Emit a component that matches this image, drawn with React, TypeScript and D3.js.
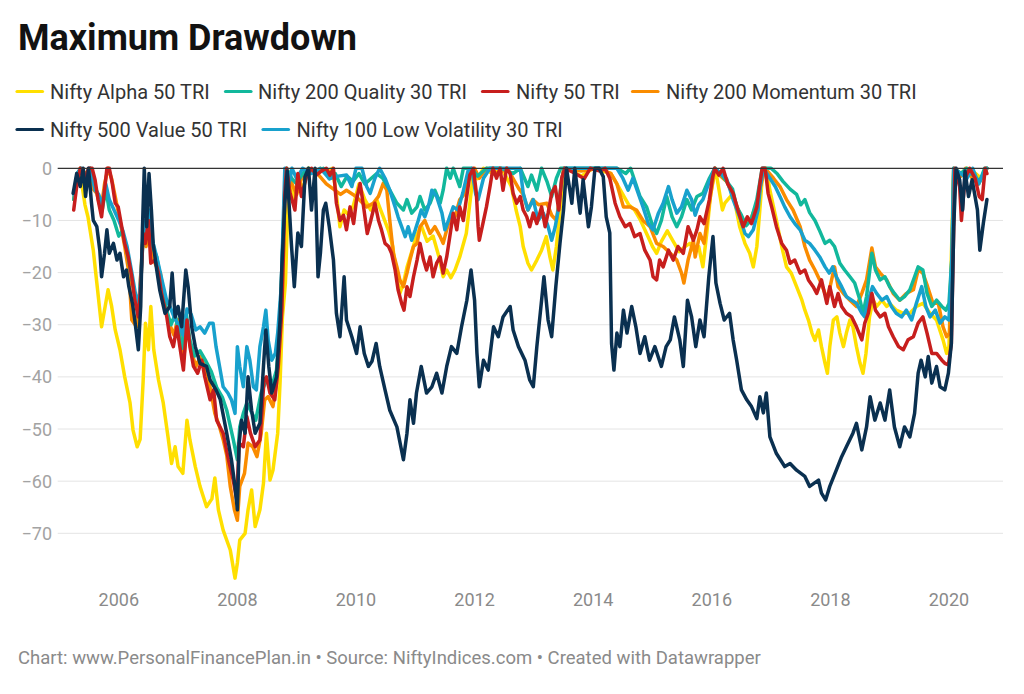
import React from 'react';
import * as d3 from 'd3';

type Pt = [number, number];

const xTickYears = [2006, 2008, 2010, 2012, 2014, 2016, 2018, 2020];
const yTickValues = [0, -10, -20, -30, -40, -50, -60, -70];

const seriesLabels = [
  'Nifty Alpha 50 TRI',
  'Nifty 200 Quality 30 TRI',
  'Nifty 50 TRI',
  'Nifty 200 Momentum 30 TRI',
  'Nifty 500 Value 50 TRI',
  'Nifty 100 Low Volatility 30 TRI',
];
const seriesColors = ['#ffdf00', '#12b89c', '#c71e1d', '#fa8c00', '#0a3050', '#18a1cd'];

const alpha50: Pt[] = [[2005.24,-4.7],[2005.35,-1],[2005.43,-7],[2005.48,-9.3],[2005.57,-15.7],[2005.63,-22],[2005.71,-30.4],[2005.77,-26.5],[2005.82,-23.3],[2005.88,-26.5],[2005.94,-31],[2006.02,-34.8],[2006.10,-40],[2006.19,-45],[2006.24,-50.2],[2006.31,-53.4],[2006.36,-52],[2006.41,-41],[2006.45,-29.7],[2006.50,-34.8],[2006.54,-26.5],[2006.59,-34.8],[2006.67,-40.6],[2006.75,-45],[2006.83,-51.5],[2006.89,-56.6],[2006.95,-53.4],[2007.00,-57.2],[2007.08,-58.5],[2007.15,-48.3],[2007.20,-52.1],[2007.29,-57.2],[2007.37,-61],[2007.48,-64.9],[2007.57,-63.4],[2007.62,-59.4],[2007.68,-65.5],[2007.76,-69.4],[2007.88,-73.2],[2007.96,-78.6],[2008.00,-75.7],[2008.04,-71.3],[2008.13,-70],[2008.18,-65.5],[2008.24,-61.7],[2008.30,-68.7],[2008.38,-65.5],[2008.44,-60.4],[2008.49,-50.8],[2008.55,-59.8],[2008.60,-57.9],[2008.68,-50.8],[2008.72,-41],[2008.76,-28.5],[2008.81,-22],[2008.85,-8],[2008.90,-2],[2008.97,-6],[2009.03,-2],[2009.10,-4],[2009.20,0],[2009.30,-1],[2009.40,0],[2009.50,-1],[2009.60,0],[2009.67,-5],[2009.73,-11.2],[2009.80,-8],[2009.88,-9],[2009.96,-7],[2010.05,-3],[2010.15,-6],[2010.25,-8],[2010.35,-6],[2010.45,-9],[2010.55,-12],[2010.62,-15],[2010.69,-21],[2010.74,-24],[2010.80,-22],[2010.86,-19],[2010.94,-16],[2011.02,-13],[2011.10,-11],[2011.20,-14],[2011.30,-13],[2011.40,-17],[2011.47,-20.8],[2011.53,-19.5],[2011.60,-21],[2011.67,-19.5],[2011.75,-17],[2011.86,-12.5],[2011.92,-6.7],[2011.98,-1],[2012.05,-2],[2012.15,0],[2012.30,-1],[2012.45,0],[2012.55,-2],[2012.62,-3.5],[2012.70,-8],[2012.77,-11.2],[2012.82,-15],[2012.90,-18.2],[2012.96,-19.5],[2013.05,-17.6],[2013.13,-15.7],[2013.21,-13.1],[2013.27,-17],[2013.32,-19.5],[2013.38,-15],[2013.44,-8],[2013.50,-1.9],[2013.55,0],[2013.80,-1.5],[2014.00,0],[2014.30,-1],[2014.40,-3],[2014.50,-5],[2014.60,-7],[2014.70,-8],[2014.80,-10],[2014.92,-13],[2015.00,-15],[2015.07,-16.3],[2015.15,-14],[2015.25,-12],[2015.35,-14],[2015.45,-16],[2015.55,-15],[2015.63,-14.4],[2015.71,-16],[2015.78,-15],[2015.85,-18.9],[2015.92,-12],[2015.98,-5],[2016.03,-2],[2016.06,0],[2016.12,-4],[2016.18,-8],[2016.22,-6.7],[2016.36,-4.8],[2016.47,-11.2],[2016.56,-14.4],[2016.64,-16.3],[2016.70,-18.9],[2016.76,-15],[2016.81,-8],[2016.86,-0.5],[2016.92,0],[2016.98,-4.2],[2017.09,-10],[2017.18,-15],[2017.26,-18.9],[2017.34,-20.1],[2017.43,-22.7],[2017.52,-25.3],[2017.57,-27.2],[2017.63,-29.1],[2017.69,-31.6],[2017.74,-33],[2017.80,-31],[2017.85,-34.2],[2017.91,-37.4],[2017.95,-39.3],[2017.99,-34.2],[2018.05,-29.1],[2018.11,-28.5],[2018.16,-31.6],[2018.22,-34.2],[2018.27,-31.6],[2018.33,-29.1],[2018.38,-30.4],[2018.44,-34.2],[2018.50,-37.4],[2018.55,-39.3],[2018.60,-35.5],[2018.66,-28.5],[2018.72,-25.3],[2018.78,-26.5],[2018.87,-25.3],[2018.95,-26.5],[2019.00,-25.9],[2019.11,-27.2],[2019.23,-27.8],[2019.34,-27.8],[2019.45,-26.5],[2019.56,-25.9],[2019.68,-27.8],[2019.79,-29.1],[2019.90,-32.9],[2019.96,-35.5],[2020.00,-34.2],[2020.04,-17],[2020.08,0],[2020.20,-1],[2020.30,0],[2020.45,-1],[2020.55,-2],[2020.64,0]];

const quality30: Pt[] = [[2005.24,-6],[2005.30,-1],[2005.36,0],[2005.45,-1.5],[2005.52,0],[2005.58,-3],[2005.65,-5],[2005.72,-8],[2005.78,-4],[2005.84,-8],[2005.92,-10],[2006.00,-13],[2006.06,-12],[2006.14,-16],[2006.22,-21],[2006.28,-25],[2006.34,-27],[2006.38,-20],[2006.42,-11],[2006.47,-13],[2006.52,-9],[2006.57,-15],[2006.64,-17],[2006.72,-22],[2006.80,-27],[2006.88,-30],[2006.95,-28],[2007.02,-32],[2007.07,-34.5],[2007.14,-28],[2007.20,-33],[2007.28,-36],[2007.37,-35],[2007.47,-37],[2007.56,-39],[2007.65,-42],[2007.75,-44],[2007.82,-46.4],[2007.93,-52],[2008.00,-55.9],[2008.04,-49.6],[2008.10,-47],[2008.16,-45],[2008.22,-46.4],[2008.31,-48.3],[2008.40,-43.1],[2008.49,-40.6],[2008.58,-41.9],[2008.66,-38.7],[2008.72,-29],[2008.76,-16],[2008.80,-4],[2008.83,0],[2008.92,-2],[2009.00,-3],[2009.10,-1],[2009.20,0],[2009.35,-1],[2009.45,0],[2009.55,-2],[2009.65,-1],[2009.75,-3.5],[2009.85,-1.5],[2009.95,-2.5],[2010.05,-1],[2010.15,-3],[2010.25,-2],[2010.35,-1],[2010.45,-1.9],[2010.57,-4.2],[2010.69,-6.7],[2010.80,-8],[2010.86,-6],[2010.94,-8.6],[2011.03,-7.4],[2011.08,-5.4],[2011.16,-8],[2011.25,-6.7],[2011.33,-4.2],[2011.42,-6.7],[2011.47,-4.2],[2011.53,0],[2011.59,-1.9],[2011.64,0],[2011.75,-3.5],[2011.81,0],[2011.95,0],[2012.05,-1.5],[2012.20,0],[2012.45,0],[2012.65,-1],[2012.77,0],[2012.90,-3.5],[2012.96,-1.3],[2013.05,-4.2],[2013.13,0],[2013.22,-2.5],[2013.30,-5.4],[2013.38,-1.9],[2013.45,0],[2014.40,0],[2014.55,-1],[2014.63,0],[2014.79,-5.4],[2014.90,-7.4],[2014.99,-10.6],[2015.07,-12.5],[2015.15,-10],[2015.24,-5.4],[2015.33,-9.3],[2015.41,-11.2],[2015.49,-9.3],[2015.58,-6],[2015.66,-8],[2015.75,-5.4],[2015.85,-4.8],[2015.96,-1.9],[2016.05,0],[2016.15,-1],[2016.25,-2.5],[2016.35,-4],[2016.42,-7.4],[2016.50,-9],[2016.58,-11],[2016.66,-10],[2016.76,-6],[2016.85,0],[2017.00,0],[2017.10,-1],[2017.20,-2.5],[2017.32,-4],[2017.43,-5],[2017.50,-7],[2017.57,-6],[2017.65,-8.5],[2017.74,-10],[2017.82,-12],[2017.91,-14.4],[2017.99,-13.8],[2018.07,-15],[2018.16,-18.2],[2018.24,-19.5],[2018.33,-20.8],[2018.41,-22],[2018.50,-25.3],[2018.55,-27.8],[2018.61,-24.6],[2018.70,-16.3],[2018.76,-19.5],[2018.84,-21.4],[2018.92,-20.8],[2019.00,-22.7],[2019.08,-24],[2019.17,-25.3],[2019.25,-24.6],[2019.34,-23.3],[2019.42,-20.8],[2019.48,-18.9],[2019.56,-19.5],[2019.63,-24],[2019.71,-26.5],[2019.79,-25.3],[2019.88,-26.5],[2019.95,-27.2],[2020.00,-25.9],[2020.05,-17],[2020.08,0],[2020.20,-1],[2020.30,0],[2020.42,-1.5],[2020.52,-2.5],[2020.60,0],[2020.64,0]];

const nifty50: Pt[] = [[2005.24,-8],[2005.29,-3.5],[2005.35,0],[2005.43,-2],[2005.49,0],[2005.55,0],[2005.60,-2.2],[2005.65,-6],[2005.71,-9.3],[2005.76,-4.2],[2005.80,0],[2005.84,0],[2005.89,-2.9],[2005.94,-6.7],[2005.99,-7.4],[2006.05,-11.2],[2006.10,-14.4],[2006.16,-17],[2006.22,-20.8],[2006.27,-25.3],[2006.33,-28.5],[2006.37,-22.7],[2006.41,-12.5],[2006.45,-14.4],[2006.50,-10],[2006.54,-18.2],[2006.61,-17.6],[2006.67,-20.1],[2006.72,-24],[2006.81,-28.5],[2006.86,-32.3],[2006.92,-34.2],[2006.98,-30.4],[2007.03,-34.2],[2007.09,-38.7],[2007.15,-29.1],[2007.20,-34.2],[2007.26,-38],[2007.33,-39.3],[2007.40,-36.8],[2007.45,-40],[2007.54,-44.4],[2007.60,-42.5],[2007.65,-48.3],[2007.76,-50.8],[2007.85,-55.9],[2007.93,-59.8],[2007.99,-63.6],[2008.03,-52.7],[2008.10,-53.4],[2008.16,-47.6],[2008.22,-50.8],[2008.30,-53.4],[2008.38,-52.1],[2008.45,-40.6],[2008.49,-40],[2008.55,-43.1],[2008.63,-44.4],[2008.69,-38],[2008.75,-27.2],[2008.78,-15],[2008.80,-5],[2008.83,0],[2008.89,-4.8],[2008.97,-8],[2009.02,-1],[2009.08,-5.4],[2009.17,-1.3],[2009.25,0],[2009.33,-1.3],[2009.42,-0.5],[2009.50,0],[2009.56,-1.3],[2009.62,0],[2009.67,-6.7],[2009.73,-10],[2009.79,-9],[2009.84,-11.8],[2009.90,-7.4],[2009.96,-10.6],[2010.01,-6],[2010.07,-2.9],[2010.12,-6.7],[2010.19,-12.5],[2010.25,-10],[2010.32,-6.7],[2010.38,-10],[2010.43,-11.8],[2010.49,-14.4],[2010.55,-15],[2010.60,-16.3],[2010.66,-19.5],[2010.71,-23.3],[2010.77,-25.9],[2010.81,-27.2],[2010.86,-22.7],[2010.91,-24.6],[2010.97,-20.8],[2011.03,-17.6],[2011.08,-14.4],[2011.14,-17.6],[2011.19,-19.5],[2011.25,-17],[2011.30,-20.8],[2011.36,-18.2],[2011.42,-17],[2011.47,-20.1],[2011.53,-17],[2011.59,-12.5],[2011.64,-8.6],[2011.70,-11.8],[2011.75,-7.4],[2011.81,-10],[2011.86,-6],[2011.92,-1.3],[2011.98,0],[2012.03,-4.8],[2012.06,-11.2],[2012.08,-13.8],[2012.14,-10.6],[2012.20,-7.4],[2012.26,-3.5],[2012.31,0],[2012.37,-1.9],[2012.43,0],[2012.48,-4.2],[2012.54,0],[2012.60,-1],[2012.65,-4.8],[2012.71,-6.7],[2012.77,-5.4],[2012.82,-8],[2012.88,-9.3],[2012.93,-11.2],[2012.99,-8.6],[2013.05,-10.6],[2013.13,-7.4],[2013.19,-11.2],[2013.24,-8.6],[2013.30,-4.8],[2013.36,-3.5],[2013.42,-8],[2013.47,-1.9],[2013.52,0],[2013.70,-1],[2013.85,-2],[2013.95,0],[2014.10,-0.5],[2014.20,0],[2014.28,-1.9],[2014.37,-6.7],[2014.45,-9.3],[2014.54,-11.2],[2014.62,-10.6],[2014.70,-13.1],[2014.79,-12.5],[2014.87,-15.7],[2014.96,-17.6],[2015.01,-20.8],[2015.07,-21.4],[2015.12,-17.6],[2015.18,-18.9],[2015.27,-15.7],[2015.35,-17.6],[2015.43,-15],[2015.52,-16.3],[2015.60,-11.2],[2015.69,-13.8],[2015.75,-11.8],[2015.80,-9.3],[2015.87,-10.6],[2015.96,-6],[2016.01,-1.9],[2016.05,0],[2016.12,-1.3],[2016.19,0],[2016.27,-3],[2016.36,-4.8],[2016.44,-8],[2016.53,-11.2],[2016.60,-9.3],[2016.67,-10.6],[2016.76,-7.4],[2016.81,-3],[2016.85,0],[2016.90,0],[2016.95,-4.8],[2017.01,-7.4],[2017.09,-11.2],[2017.18,-14.4],[2017.26,-15.7],[2017.32,-18.2],[2017.40,-17.6],[2017.49,-20.1],[2017.57,-19.5],[2017.63,-21.4],[2017.71,-22.7],[2017.77,-24],[2017.85,-21.4],[2017.94,-25.9],[2017.99,-22.7],[2018.07,-26.5],[2018.13,-24],[2018.19,-26.5],[2018.27,-27.8],[2018.36,-28.5],[2018.44,-30.4],[2018.53,-32.9],[2018.58,-29.7],[2018.64,-27.8],[2018.70,-24],[2018.76,-27.2],[2018.84,-28.5],[2018.92,-27.8],[2018.98,-30.4],[2019.06,-32.3],[2019.15,-34.2],[2019.23,-34.8],[2019.31,-32.9],[2019.40,-32.3],[2019.48,-29.7],[2019.56,-28.5],[2019.63,-31.6],[2019.71,-35.5],[2019.79,-35.5],[2019.88,-36.8],[2019.93,-37.4],[2019.99,-37.7],[2020.04,-33.6],[2020.07,-17],[2020.10,0],[2020.18,-3.5],[2020.21,-10],[2020.27,-1.9],[2020.35,0],[2020.44,-1.9],[2020.51,-5.4],[2020.56,-6],[2020.61,0],[2020.64,-1]];

const momentum30: Pt[] = [[2005.24,-6],[2005.30,-2],[2005.35,0],[2005.45,-1],[2005.52,0],[2005.57,-4],[2005.63,-4.8],[2005.70,-8],[2005.76,-3],[2005.82,0],[2005.88,-2],[2005.95,-6],[2006.02,-10],[2006.10,-15],[2006.17,-20],[2006.22,-29.1],[2006.30,-30.4],[2006.35,-24],[2006.41,-13],[2006.46,-15],[2006.51,-11],[2006.57,-17],[2006.64,-19],[2006.70,-20],[2006.78,-26],[2006.86,-30],[2006.93,-32],[2006.99,-29],[2007.05,-33],[2007.10,-36],[2007.15,-30],[2007.22,-35],[2007.30,-38],[2007.38,-36],[2007.45,-38],[2007.54,-42],[2007.62,-47],[2007.70,-49.6],[2007.76,-52],[2007.82,-55],[2007.88,-61],[2007.95,-65.5],[2008.00,-67.5],[2008.04,-61],[2008.12,-58.5],[2008.18,-52.7],[2008.26,-53.4],[2008.33,-55.3],[2008.40,-51],[2008.46,-44.4],[2008.52,-43.8],[2008.60,-45.7],[2008.66,-41.2],[2008.72,-29],[2008.76,-18],[2008.80,-5],[2008.83,0],[2008.92,-3],[2009.00,-5],[2009.08,-2],[2009.20,0],[2009.35,-1],[2009.50,-3],[2009.62,-4],[2009.74,-5],[2009.84,-4.2],[2010.00,-5.4],[2010.18,-7.4],[2010.29,-6.7],[2010.38,-5.4],[2010.46,-2.9],[2010.52,-4.2],[2010.57,-10],[2010.63,-16.3],[2010.69,-18.9],[2010.74,-21.4],[2010.80,-22.7],[2010.86,-20.1],[2010.91,-17.6],[2010.97,-15],[2011.03,-14.4],[2011.08,-11.2],[2011.16,-10],[2011.25,-12.5],[2011.33,-11.2],[2011.42,-13.1],[2011.47,-14.4],[2011.53,-11.8],[2011.59,-9.3],[2011.67,-9.3],[2011.75,-6],[2011.84,-4.8],[2011.92,-1.3],[2012.00,0],[2012.08,-1.9],[2012.20,0],[2012.40,-1],[2012.55,0],[2012.65,-2],[2012.75,-4],[2012.82,-5],[2012.90,-8],[2012.98,-6],[2013.08,-7],[2013.22,-6.7],[2013.30,-9],[2013.38,-10],[2013.45,-4],[2013.50,0],[2013.80,-0.5],[2014.10,0],[2014.30,-1],[2014.40,-3],[2014.51,-7.4],[2014.62,-7.4],[2014.73,-8],[2014.84,-10],[2014.96,-11.2],[2015.07,-14.4],[2015.18,-15],[2015.30,-16.3],[2015.41,-17.6],[2015.49,-20.1],[2015.53,-22],[2015.60,-17.6],[2015.69,-13.8],[2015.72,-17],[2015.80,-12.5],[2015.87,-14.4],[2015.96,-6.7],[2016.05,0],[2016.15,-1.5],[2016.25,-2.5],[2016.35,-5],[2016.45,-8],[2016.55,-11],[2016.65,-10],[2016.75,-7],[2016.82,-3.5],[2016.90,0],[2017.04,-1.9],[2017.15,-3.5],[2017.26,-6],[2017.37,-8],[2017.49,-11.2],[2017.57,-15],[2017.65,-17.6],[2017.74,-19.5],[2017.82,-21.4],[2017.91,-24],[2017.96,-24.6],[2018.02,-21.4],[2018.07,-18.9],[2018.13,-22.7],[2018.22,-24],[2018.33,-25.3],[2018.44,-26.5],[2018.53,-24],[2018.61,-21.4],[2018.70,-15.3],[2018.76,-18.9],[2018.84,-20.1],[2018.95,-21.4],[2019.06,-24],[2019.17,-25.3],[2019.28,-24],[2019.40,-23.3],[2019.48,-19.5],[2019.56,-20.1],[2019.64,-22.7],[2019.73,-25.9],[2019.82,-25.9],[2019.90,-30.4],[2019.96,-32.3],[2020.01,-31.6],[2020.05,-17],[2020.08,0],[2020.20,-1.5],[2020.28,0],[2020.40,-2],[2020.50,-3],[2020.58,-1],[2020.64,0]];

const value50: Pt[] = [[2005.23,-4.8],[2005.29,-1],[2005.35,-3.5],[2005.40,0],[2005.44,-5.4],[2005.49,0],[2005.54,-6.7],[2005.57,-10],[2005.63,-11.2],[2005.68,-15.7],[2005.71,-20.8],[2005.76,-16.3],[2005.80,-11.8],[2005.84,-16.3],[2005.91,-14.4],[2005.97,-17.6],[2006.02,-16.3],[2006.08,-20.8],[2006.13,-19.5],[2006.17,-22.7],[2006.23,-25.9],[2006.27,-29.1],[2006.33,-34.8],[2006.37,-26.5],[2006.40,-11.2],[2006.43,0],[2006.47,-11.2],[2006.51,-1],[2006.55,-8],[2006.58,-14.4],[2006.64,-19.5],[2006.69,-23.3],[2006.78,-27.8],[2006.86,-26.5],[2006.90,-20.1],[2006.95,-28.5],[2007.00,-26.5],[2007.06,-30.4],[2007.13,-19.5],[2007.17,-22.7],[2007.23,-30.4],[2007.29,-34.2],[2007.37,-37.4],[2007.48,-38],[2007.54,-40.6],[2007.64,-42.5],[2007.71,-44.3],[2007.82,-50.8],[2007.90,-55.9],[2007.96,-61],[2008.00,-65.5],[2008.03,-52.7],[2008.07,-48.3],[2008.13,-50.8],[2008.18,-40],[2008.24,-46.4],[2008.30,-50.8],[2008.38,-48.9],[2008.44,-38],[2008.48,-31],[2008.53,-38],[2008.58,-43.1],[2008.66,-40],[2008.72,-29.1],[2008.75,-18.9],[2008.80,-6.7],[2008.84,-0.5],[2008.91,-14.4],[2008.96,-22.7],[2009.02,-12.4],[2009.08,-15],[2009.14,-1.6],[2009.20,0],[2009.25,-8],[2009.31,0],[2009.36,-20.8],[2009.40,-16.3],[2009.45,-8],[2009.49,-6.7],[2009.55,-11.2],[2009.62,-17.6],[2009.67,-27.8],[2009.73,-32.3],[2009.80,-20.8],[2009.84,-29.1],[2009.93,-32.3],[2010.01,-35.5],[2010.07,-30.4],[2010.14,-35.5],[2010.21,-38],[2010.27,-37],[2010.34,-33.6],[2010.40,-38],[2010.49,-42.5],[2010.57,-46.4],[2010.69,-49.6],[2010.80,-55.9],[2010.86,-50.8],[2010.91,-44.4],[2010.97,-48.9],[2011.02,-43.1],[2011.10,-38],[2011.19,-43.1],[2011.28,-41.9],[2011.36,-39.3],[2011.45,-43.1],[2011.53,-38],[2011.61,-34.2],[2011.70,-35.5],[2011.78,-30.4],[2011.87,-25.3],[2011.94,-19.5],[2012.00,-25.3],[2012.04,-35.5],[2012.08,-41.9],[2012.15,-36.8],[2012.23,-38.7],[2012.32,-30.4],[2012.40,-32.3],[2012.48,-28.5],[2012.60,-26.5],[2012.65,-31],[2012.74,-34.2],[2012.85,-36.8],[2012.93,-40.6],[2012.99,-41.9],[2013.05,-34.2],[2013.13,-25.3],[2013.17,-20.8],[2013.24,-29.1],[2013.30,-32.3],[2013.37,-22.7],[2013.44,-14.4],[2013.50,-8],[2013.55,0],[2013.64,-6.7],[2013.69,0],[2013.78,-8.6],[2013.83,-2.2],[2013.92,-11.2],[2013.97,-7.4],[2014.03,0],[2014.10,0],[2014.17,-1.6],[2014.22,-9.3],[2014.28,-12.4],[2014.31,-33.6],[2014.35,-38.7],[2014.40,-31.6],[2014.45,-34.2],[2014.51,-27.2],[2014.57,-31.6],[2014.65,-26.5],[2014.72,-30.4],[2014.79,-35.5],[2014.87,-32.3],[2014.95,-36.8],[2015.04,-34.2],[2015.15,-38],[2015.23,-34.2],[2015.30,-32.9],[2015.37,-28.5],[2015.46,-32.9],[2015.52,-38],[2015.59,-25.3],[2015.66,-28.5],[2015.73,-34.2],[2015.80,-29.1],[2015.87,-32.3],[2015.95,-20.8],[2016.02,-13.1],[2016.07,-22],[2016.14,-25.9],[2016.21,-29.1],[2016.30,-27.8],[2016.36,-32.9],[2016.42,-36.8],[2016.50,-42.5],[2016.59,-44.4],[2016.67,-45.7],[2016.76,-48],[2016.81,-43.8],[2016.87,-46.9],[2016.92,-43.1],[2016.98,-51.5],[2017.09,-54.7],[2017.23,-57.2],[2017.32,-56.6],[2017.43,-57.9],[2017.57,-59.1],[2017.65,-61],[2017.80,-59.8],[2017.85,-62.3],[2017.92,-63.6],[2017.99,-61],[2018.10,-57.9],[2018.19,-55.3],[2018.27,-53.4],[2018.38,-50.8],[2018.44,-48.9],[2018.53,-54],[2018.61,-49.6],[2018.67,-43.8],[2018.75,-48.3],[2018.84,-45],[2018.92,-48.3],[2019.00,-42.5],[2019.08,-49.6],[2019.17,-53.4],[2019.25,-49.6],[2019.34,-51.5],[2019.42,-47],[2019.48,-39.3],[2019.53,-36.8],[2019.60,-40],[2019.65,-36.1],[2019.71,-41.2],[2019.79,-38],[2019.85,-41.9],[2019.93,-42.5],[2019.99,-39.3],[2020.04,-33.6],[2020.08,-11.2],[2020.12,0],[2020.18,-2.2],[2020.23,-8],[2020.27,-0.5],[2020.33,-5.4],[2020.39,-2.2],[2020.48,-8],[2020.52,-15.7],[2020.58,-10.5],[2020.64,-6]];

const lowVol30: Pt[] = [[2005.24,-5],[2005.30,-1],[2005.36,0],[2005.45,-2],[2005.52,0],[2005.60,-4.2],[2005.66,-5],[2005.72,-7],[2005.78,-3],[2005.84,-6],[2005.92,-8],[2006.00,-10],[2006.07,-12],[2006.14,-15],[2006.22,-20],[2006.28,-24],[2006.34,-26],[2006.38,-19],[2006.42,-10],[2006.47,-12],[2006.52,-8],[2006.57,-14],[2006.64,-17],[2006.72,-21],[2006.80,-25],[2006.88,-27],[2006.95,-29],[2007.02,-30],[2007.08,-32],[2007.15,-27],[2007.22,-28],[2007.30,-31],[2007.37,-30.4],[2007.45,-31.6],[2007.53,-29.7],[2007.59,-29.7],[2007.64,-34.2],[2007.70,-38],[2007.76,-41.9],[2007.84,-43.1],[2007.90,-44.4],[2007.96,-47],[2008.00,-34.2],[2008.04,-38],[2008.10,-41.9],[2008.16,-34.2],[2008.21,-36.8],[2008.27,-41.9],[2008.32,-42.5],[2008.38,-34.2],[2008.44,-30.4],[2008.48,-27.2],[2008.52,-33],[2008.58,-36.8],[2008.64,-35.5],[2008.68,-31.6],[2008.74,-22.7],[2008.77,-11.2],[2008.80,0],[2008.86,-3.5],[2008.92,0],[2009.00,-2],[2009.10,0],[2009.25,-1],[2009.40,0],[2009.55,-2],[2009.70,-1.5],[2009.84,-1.3],[2009.93,-3.5],[2010.00,0],[2010.10,0],[2010.18,-3.5],[2010.24,-4.8],[2010.32,-1.9],[2010.40,0],[2010.49,-1.9],[2010.57,-4.2],[2010.66,-7.4],[2010.71,-9.3],[2010.77,-11.2],[2010.83,-13.1],[2010.88,-11.2],[2010.94,-13.8],[2011.00,-11.8],[2011.05,-10],[2011.10,-8],[2011.16,-9.3],[2011.22,-7.4],[2011.28,-4.2],[2011.36,-5.4],[2011.45,-8.6],[2011.50,-11.8],[2011.56,-10],[2011.64,-7.4],[2011.72,-8],[2011.80,-4.8],[2011.89,-0.5],[2011.95,0],[2012.02,-5],[2012.06,-6],[2012.15,-1.9],[2012.26,0],[2012.77,0],[2012.82,-4.8],[2012.90,-8],[2012.99,-6],[2013.07,-10],[2013.16,-8.6],[2013.24,-11.2],[2013.30,-13.8],[2013.36,-11.2],[2013.42,-7.4],[2013.47,-1.9],[2013.52,0],[2014.40,0],[2014.50,-1.9],[2014.59,-4.2],[2014.67,-1.9],[2014.76,-4.8],[2014.84,-7.4],[2014.93,-10.6],[2015.01,-11.8],[2015.10,-8.6],[2015.18,-6.7],[2015.27,-3.5],[2015.33,-6],[2015.41,-8.6],[2015.49,-7.4],[2015.58,-4.2],[2015.66,-6],[2015.72,-9],[2015.78,-7],[2015.85,-6],[2015.96,-2.5],[2016.05,0],[2016.15,-1],[2016.25,-2],[2016.36,-6],[2016.47,-9.3],[2016.56,-12.5],[2016.62,-13.1],[2016.70,-11.8],[2016.78,-8],[2016.82,-3.5],[2016.87,0],[2016.98,-1.9],[2017.07,-3.5],[2017.15,-5.4],[2017.23,-7.4],[2017.32,-9.3],[2017.40,-10.6],[2017.49,-11.8],[2017.57,-13.8],[2017.65,-14.4],[2017.74,-15.7],[2017.82,-17],[2017.91,-18.9],[2017.98,-20.1],[2018.04,-18.9],[2018.10,-20.8],[2018.19,-22.7],[2018.27,-24.6],[2018.36,-25.3],[2018.44,-25.9],[2018.53,-27.8],[2018.58,-28.5],[2018.64,-25.3],[2018.71,-22.7],[2018.78,-24],[2018.87,-25.3],[2018.95,-24.6],[2019.03,-26.5],[2019.11,-27.8],[2019.20,-28.5],[2019.28,-27.2],[2019.37,-29.1],[2019.45,-25.9],[2019.54,-22.7],[2019.61,-26.5],[2019.68,-28.5],[2019.77,-27.2],[2019.85,-29.7],[2019.93,-28.5],[2020.00,-29.1],[2020.05,-17],[2020.08,0],[2020.20,-1],[2020.30,-2],[2020.40,0],[2020.50,-3],[2020.58,-1],[2020.64,0]];

const seriesData: Pt[][] = [alpha50, quality30, nifty50, momentum30, value50, lowVol30];
// draw order (bottom to top)
const drawOrder = [0, 3, 1, 5, 2, 4];

const legendLayout = [
  { swatch: 17, text: 50, row: 0 },
  { swatch: 225.5, text: 258, row: 0 },
  { swatch: 482.5, text: 516, row: 0 },
  { swatch: 632.5, text: 666, row: 0 },
  { swatch: 17, text: 50, row: 1 },
  { swatch: 263, text: 296.5, row: 1 },
];

export default function App() {
  const W = 1024;
  const H = 694;
  const left = 57.7;
  const right = 1003;
  const x = d3.scaleLinear().domain([2004.97, 2020.911]).range([left, right]);
  const y = d3.scaleLinear().domain([0, -70]).range([168.3, 533.3]);
  const line = d3
    .line<Pt>()
    .x((d) => x(d[0]))
    .y((d) => y(d[1]))
    .curve(d3.curveLinear);
  const font = 'Roboto, "Noto Sans", sans-serif';
  const rowY = [91.5, 129.5];

  return (
    <svg
      width={W}
      height={H}
      viewBox={`0 0 ${W} ${H}`}
      style={{ position: 'absolute', left: 0, top: 0, background: '#fff' }}
      fontFamily={font}
    >
      <rect x={0} y={0} width={W} height={H} fill="#fff" />
      <text x={18} y={50} fontSize={36} fontWeight={700} fill="#121212">
        Maximum Drawdown
      </text>
      {legendLayout.map((l, i) => (
        <g key={i}>
          <line
            x1={l.swatch}
            x2={l.swatch + 25.5}
            y1={rowY[l.row]}
            y2={rowY[l.row]}
            stroke={seriesColors[i]}
            strokeWidth={3.2}
            strokeLinecap="round"
          />
          <text x={l.text} y={rowY[l.row] + 7.8} fontSize={20} fill="#333">
            {seriesLabels[i]}
          </text>
        </g>
      ))}
      {yTickValues.map((v) => (
        <g key={v}>
          {v !== 0 && (
            <line x1={left} x2={right} y1={y(v)} y2={y(v)} stroke="#e4e4e4" strokeWidth={1} />
          )}
          <text x={52} y={y(v) + 6.5} fontSize={18} textAnchor="end" fill="#a3a3a3">
            {v === 0 ? '0' : '\u2212' + Math.abs(v)}
          </text>
        </g>
      ))}
      {xTickYears.map((yr) => (
        <text key={yr} x={x(yr)} y={606} fontSize={18} textAnchor="middle" fill="#8a8a8a">
          {yr}
        </text>
      ))}
      {drawOrder.map((i) => (
        <path
          key={i}
          d={line(seriesData[i]) || ''}
          fill="none"
          stroke={seriesColors[i]}
          strokeWidth={3.5}
          strokeLinejoin="round"
          strokeLinecap="round"
        />
      ))}
      <line x1={left} x2={right} y1={y(0)} y2={y(0)} stroke="#333" strokeWidth={1.2} />
      <text x={18} y={664} fontSize={18.5} fill="#8a8a8a">
        Chart: www.PersonalFinancePlan.in • Source: NiftyIndices.com • Created with Datawrapper
      </text>
    </svg>
  );
}
